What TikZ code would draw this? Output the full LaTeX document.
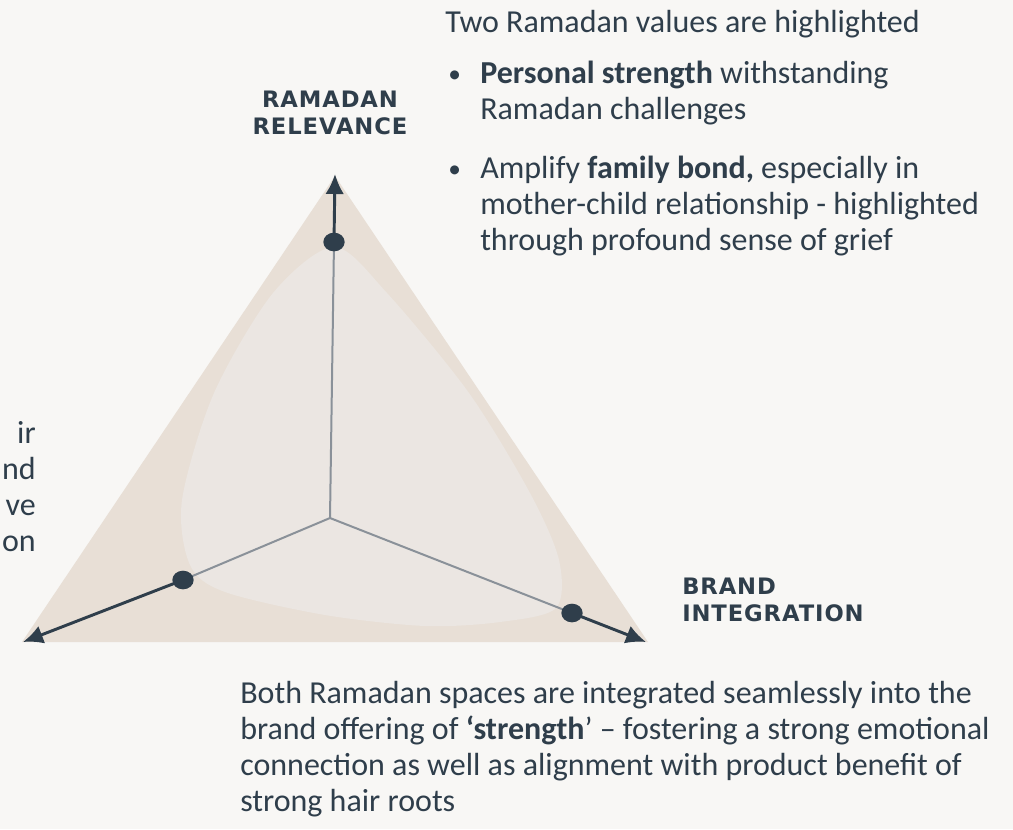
\documentclass[tikz,border=0pt]{standalone}
\usepackage{fontspec}
\setmainfont{Carlito}
\newfontfamily\labelfont{DejaVu Sans}[LetterSpace=4]
\usetikzlibrary{positioning,shapes,arrows,arrows.meta}
\definecolor{ink}{HTML}{2F3E4B}
\definecolor{paper}{HTML}{F8F7F5}
\definecolor{sand}{HTML}{E8DFD6}
\definecolor{haze}{HTML}{EBE6E2}
\definecolor{spoke}{HTML}{8A9199}

\begin{document}
\begin{tikzpicture}[
  x=0.75pt, y=-0.75pt,
  mytext/.style={font=\fontsize{24}{27}\selectfont, text=ink, align=left, inner sep=0pt},
  mybullet/.style={font=\fontsize{19}{20}\selectfont, text=ink, inner sep=0pt},
  mylabel/.style={font=\labelfont\bfseries\fontsize{17}{20}\selectfont, text=ink, align=center, inner sep=0pt},
  mydot/.style={fill=ink, ellipse, minimum width=16pt, minimum height=14pt, inner sep=0pt},
  myspoke/.style={draw=spoke, line width=1.5pt},
  myarrow/.style={draw=ink, line width=2.2pt, -{Latex[length=15pt,width=14pt]}}
]
\useasboundingbox (0,0) rectangle (1013,829);
\fill[paper] (0,0) rectangle (1013,829);
% triangle and inner area
\fill[sand] (335,176) -- (22,642) -- (648,642) -- cycle;
\fill[haze] plot[smooth cycle] coordinates {(334,247) (387,293) (469,393) (530,493) (559,560) (556,608) (500,622) (425,626) (325,615) (225,592) (190,565) (182,500) (214,393) (273,293)};
\coordinate (o) at (330,518);
\coordinate (ptop) at (334,242);
\coordinate (pleft) at (183,580);
\coordinate (pright) at (572,613);
\coordinate (ttop) at (335,174);
\coordinate (tleft) at (23,642);
\coordinate (tright) at (646,642);
\path (o) edge[myspoke] (ptop) edge[myspoke] (pleft) edge[myspoke] (pright);
\path (ptop) edge[myarrow] (ttop)
  (pleft) edge[myarrow] (tleft)
  (pright) edge[myarrow] (tright);
\node[mydot] (dtop) at (ptop) {};
\node[mydot] (dleft) at (pleft) {};
\node[mydot] (dright) at (pright) {};
% axis labels
\node[mylabel, anchor=north] (relevance) at (330,91) {RAMADAN\\RELEVANCE};
\node[mylabel, anchor=north west, align=left] (integration) at (682,578) {BRAND\\INTEGRATION};
% texts
\node[mytext, anchor=base west] (intro) at (445,32) {Two Ramadan values are highlighted};
\node[mytext, anchor=north west] (b1) at (480,61) {\textbf{Personal strength} withstanding\\Ramadan challenges};
\node[mybullet, anchor=base west] (bul1) at (448,82) {•};
\node[mytext, anchor=north west] (b2) at (480,156) {Amplify \textbf{family bond,} especially in\\mother-child relationship - highlighted\\through profound sense of grief};
\node[mybullet, anchor=base west] (bul2) at (448,177) {•};
\node[mytext, anchor=north east, align=right] (cut) at (36,421) {ir\\nd\\ve\\on};
\node[mytext, anchor=north west] (summary) at (240,681) {Both Ramadan spaces are integrated seamlessly into the\\brand offering of \textbf{‘strength}’ -- fostering a strong emotional\\connection as well as alignment with product benefit of\\strong hair roots};
\end{tikzpicture}
\end{document}
